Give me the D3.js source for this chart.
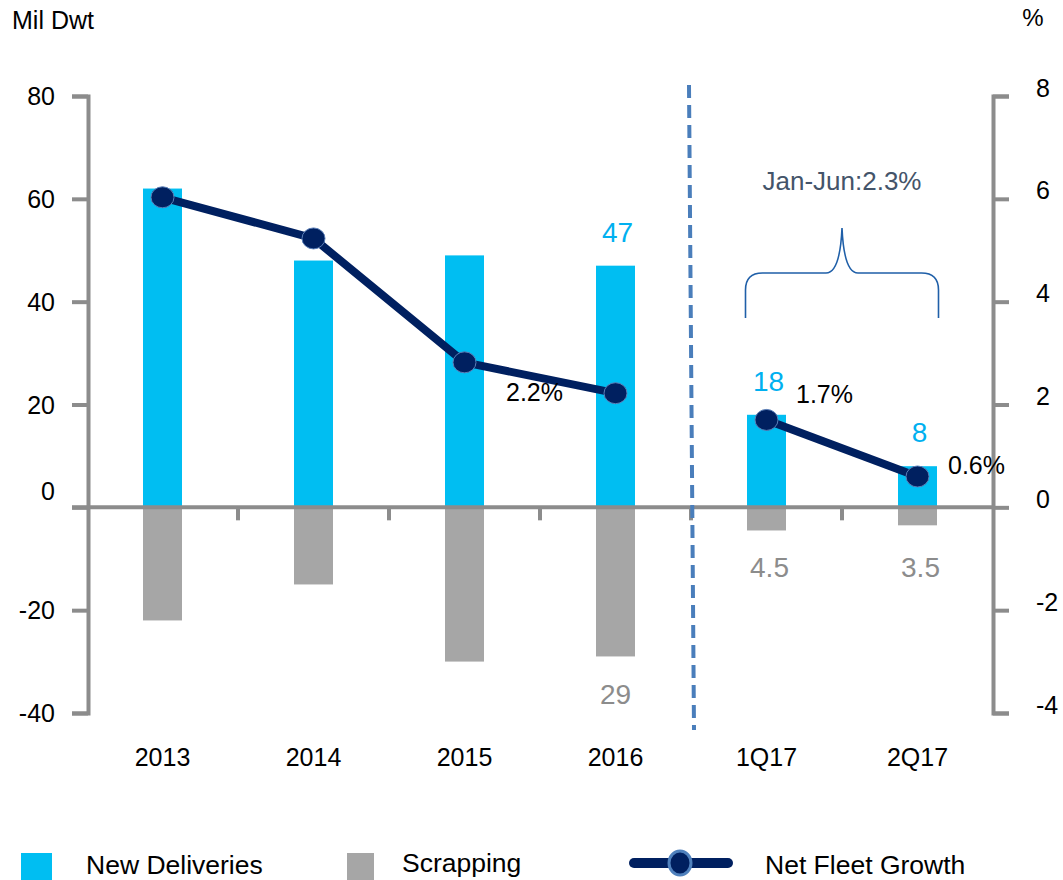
<!DOCTYPE html>
<html><head><meta charset="utf-8">
<script src="https://cdn.jsdelivr.net/npm/d3@7"></script>
<style>body{margin:0;background:#fff}svg{display:block;font-family:"Liberation Sans",Arial,sans-serif}</style>
</head><body>
<svg id="c" width="1063" height="880"></svg>
<script>
const categories = ["2013","2014","2015","2016","1Q17","2Q17"];
const newDeliveries = [62, 48, 49, 47, 18, 8];
const scrapping = [-22, -15, -30, -29, -4.5, -3.5];
const netFleetGrowth = [6.03, 5.23, 2.82, 2.22, 1.7, 0.6];
const lineSegments = [["2013","2014","2015","2016"], ["1Q17","2Q17"]];
const leftTicks = [-40, -20, 0, 20, 40, 60, 80];
const rightTicks = [-4, -2, 0, 2, 4, 6, 8];
const deliveryLabels = [null, null, null, "47", "18", "8"];
const scrapLabels = [null, null, null, "29", "4.5", "3.5"];
const growthLabels = [null, null, null, "2.2%", "1.7%", "0.6%"];
const bracketLabel = "Jan-Jun:2.3%";

const CYAN = "#00BEF2", GRAY = "#A6A6A6", NAVY = "#002060", AX = "#8C8C8C";
const svg = d3.select("#c");
const x = d3.scalePoint().domain(categories).range([87, 993]).padding(0.5);
const step = x.step();
const bw = 39;
const yL = d3.scaleLinear().domain([-40, 80]).range([713, 96]);
const yR = d3.scaleLinear().domain([-4, 8]).range([713, 96]);
const idx = c => categories.indexOf(c);

// left axis
const gl = svg.append("g").attr("transform", "translate(88,0)")
  .call(d3.axisLeft(yL).tickValues(leftTicks).tickSize(16).tickSizeOuter(16).tickFormat(d => String(d)));
gl.select(".domain").attr("stroke", AX).attr("stroke-width", 4);
gl.selectAll(".tick line").attr("stroke", AX).attr("stroke-width", 4);
gl.selectAll(".tick text").attr("fill", "#000").attr("font-size", 25)
  .attr("font-family", "Liberation Sans, Arial").attr("x", -33)
  .attr("dy", d => d === 0 ? "-0.3em" : "0.35em");

// right axis
const gr = svg.append("g").attr("transform", "translate(993,0)")
  .call(d3.axisRight(yR).tickValues(rightTicks).tickSize(16).tickSizeOuter(16).tickFormat(d => String(d)));
gr.select(".domain").attr("stroke", AX).attr("stroke-width", 4);
gr.selectAll(".tick line").attr("stroke", AX).attr("stroke-width", 4);
gr.selectAll(".tick text").attr("fill", "#000").attr("font-size", 25)
  .attr("font-family", "Liberation Sans, Arial").attr("x", 43).attr("dy", "0").attr("text-anchor", "start");

// bars
svg.append("g").selectAll("rect").data(categories).join("rect")
  .attr("x", d => x(d) - bw / 2).attr("width", bw)
  .attr("y", (d, i) => yL(newDeliveries[i])).attr("height", (d, i) => yL(0) - yL(newDeliveries[i]))
  .attr("fill", CYAN);
svg.append("g").selectAll("rect").data(categories).join("rect")
  .attr("x", d => x(d) - bw / 2).attr("width", bw)
  .attr("y", yL(0)).attr("height", (d, i) => yL(scrapping[i]) - yL(0))
  .attr("fill", GRAY);

// zero line + category ticks
svg.append("line").attr("x1", 72).attr("x2", 993).attr("y1", yL(0)).attr("y2", yL(0))
  .attr("stroke", AX).attr("stroke-width", 4);
const bounds = categories.slice(1).map(d => x(d) - step / 2);
svg.append("g").selectAll("line").data(bounds).join("line")
  .attr("x1", d => d).attr("x2", d => d).attr("y1", yL(0)).attr("y2", yL(0) + 13)
  .attr("stroke", AX).attr("stroke-width", 4);
svg.append("g").selectAll("text").data(categories).join("text")
  .attr("x", d => x(d)).attr("y", 766).attr("text-anchor", "middle")
  .attr("font-size", 25).attr("fill", "#000").text(d => d);

// dashed divider
const divX = x("1Q17") - step / 2;
svg.append("line").attr("x1", divX - 2).attr("x2", divX + 3).attr("y1", 85).attr("y2", 730)
  .attr("stroke", "#4A7EBB").attr("stroke-width", 4).attr("stroke-dasharray", "13,7");

// line series (broken between annual and quarterly)
const line = d3.line().x(d => x(d.c)).y(d => yR(d.v));
const pts = categories.map((c, i) => ({c, v: netFleetGrowth[i]}));
svg.append("g").selectAll("path").data(lineSegments.map(seg => seg.map(c => pts[idx(c)]))).join("path")
  .attr("d", line).attr("fill", "none")
  .attr("stroke", NAVY).attr("stroke-width", 8).attr("stroke-linejoin", "round");
svg.append("g").selectAll("ellipse").data(pts).join("ellipse")
  .attr("cx", d => x(d.c)).attr("cy", d => yR(d.v)).attr("rx", 11.5).attr("ry", 10.5)
  .attr("fill", NAVY).attr("stroke", "#5B7FB8").attr("stroke-width", 1);

// value labels
svg.append("g").selectAll("text").data(categories.filter((d, i) => deliveryLabels[i])).join("text")
  .attr("x", d => x(d) + 2).attr("y", d => yL(newDeliveries[idx(d)]) - 24)
  .attr("text-anchor", "middle").attr("font-size", 28).attr("fill", "#00B0F0")
  .text(d => deliveryLabels[idx(d)]);
svg.append("g").selectAll("text").data(categories.filter((d, i) => scrapLabels[i])).join("text")
  .attr("x", d => x(d) + (d === "2016" ? 0 : 3))
  .attr("y", d => d === "2016" ? yL(scrapping[3]) + 48 : 577)
  .attr("text-anchor", "middle").attr("font-size", 28).attr("fill", "#8C8C8C")
  .text(d => scrapLabels[idx(d)]);
const gOff = {"2016": [-81, -1], "1Q17": [58, -26], "2Q17": [59, -11]};
svg.append("g").selectAll("text").data(categories.filter((d, i) => growthLabels[i])).join("text")
  .attr("x", d => x(d) + gOff[d][0]).attr("y", d => yR(netFleetGrowth[idx(d)]) + gOff[d][1])
  .attr("text-anchor", "middle").attr("dy", "0.35em").attr("font-size", 25).attr("fill", "#000")
  .text(d => growthLabels[idx(d)]);

// brace annotation
const bl = x("1Q17") - 21, brr = x("2Q17") + 21, bm = (x("1Q17") + x("2Q17")) / 2;
svg.append("path").attr("fill", "none").attr("stroke", "#1F5FA8").attr("stroke-width", 1.6)
  .attr("d", `M${bl},318 L${bl},290 Q${bl},273 ${bl+17},273 L${bm-16},273 Q${bm-2},273 ${bm},228 Q${bm+2},273 ${bm+16},273 L${brr-17},273 Q${brr},273 ${brr},290 L${brr},318`);
svg.append("text").attr("x", bm).attr("y", 190).attr("text-anchor", "middle")
  .attr("font-size", 26).attr("fill", "#44546A").text(bracketLabel);

// titles
svg.append("text").attr("x", 12).attr("y", 29).attr("font-size", 25).attr("fill", "#000").text("Mil Dwt");
svg.append("text").attr("x", 1033).attr("y", 26).attr("text-anchor", "middle").attr("font-size", 24).attr("fill", "#000").text("%");

// legend
const lg = svg.append("g");
lg.append("rect").attr("x", 21).attr("y", 853).attr("width", 31).attr("height", 27).attr("fill", CYAN);
lg.append("text").attr("x", 86).attr("y", 874).attr("font-size", 26.5).attr("fill", "#000").text("New Deliveries");
lg.append("rect").attr("x", 347).attr("y", 853).attr("width", 27).attr("height", 27).attr("fill", GRAY);
lg.append("text").attr("x", 402).attr("y", 872).attr("font-size", 26.5).attr("fill", "#000").text("Scrapping");
lg.append("line").attr("x1", 634).attr("x2", 728).attr("y1", 863).attr("y2", 863)
  .attr("stroke", NAVY).attr("stroke-width", 10).attr("stroke-linecap", "round");
lg.append("ellipse").attr("cx", 680).attr("cy", 863).attr("rx", 11).attr("ry", 12)
  .attr("fill", NAVY).attr("stroke", "#4F81BD").attr("stroke-width", 3);
lg.append("text").attr("x", 765).attr("y", 874).attr("font-size", 26.5).attr("fill", "#000").text("Net Fleet Growth");
</script>
</body></html>
